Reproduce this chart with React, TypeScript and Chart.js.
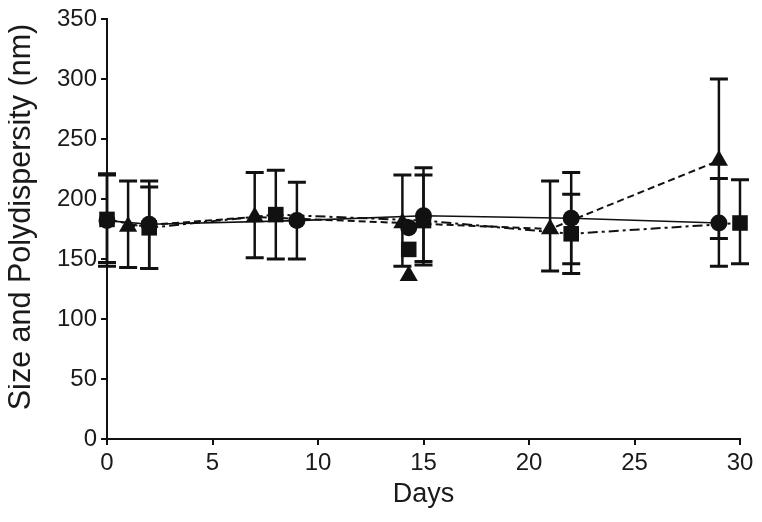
import React, { useEffect, useRef } from "react";
import { Chart, registerables } from "chart.js";

Chart.register(...registerables);

// ---- data ----
const xTicks = [0, 5, 10, 15, 20, 25, 30];
const yTicks = [0, 50, 100, 150, 200, 250, 300, 350];

// circles (solid line)
const circleDays = [0, 2, 9, 15, 22, 29];
const circleMean = [182, 179, 182, 186, 184, 180];
const circleLow = [144, 142, 150, 148, 146, 144];
const circleHigh = [220, 215, 214, 226, 222, 217];

// squares (dash-dot line)
const squareDays = [0, 2, 8, 15, 22, 30];
const squareMean = [183, 176, 187, 182, 171, 180];
const squareLow = [147, 142, 150, 145, 138, 146];
const squareHigh = [221, 210, 224, 220, 204, 216];

// triangles (dashed line)
const triangleDays = [1, 7, 14, 21, 29];
const triangleMean = [177, 185, 180, 175, 232];
const triangleLow = [143, 151, 144, 140, 167];
const triangleHigh = [215, 222, 220, 215, 300];

// isolated points near day 14 (not joined by lines)
const extraDays = [14.3];
const extraCircle = [176];
const extraSquare = [158];
const extraTriangle = [136];

const yTitle = "Size and Polydispersity (nm)";
const xTitle = "Days";

const FONT = "'Liberation Sans', Arial, Helvetica, sans-serif";
const INK = "#111";

const errorSeries = [
  { days: circleDays, low: circleLow, high: circleHigh },
  { days: squareDays, low: squareLow, high: squareHigh },
  { days: triangleDays, low: triangleLow, high: triangleHigh },
];

const toPoints = (xs: number[], ys: number[]) => xs.map((d, i) => ({ x: d, y: ys[i] }));

const errorBarPlugin = {
  id: "errorBars",
  beforeDatasetsDraw(chart: any) {
    const { ctx, scales } = chart;
    const xs = scales.x;
    const ys = scales.y;
    ctx.save();
    ctx.strokeStyle = INK;
    ctx.lineCap = "butt";
    errorSeries.forEach((s) => {
      s.days.forEach((d, i) => {
        const px = xs.getPixelForValue(d);
        const pl = ys.getPixelForValue(s.low[i]);
        const ph = ys.getPixelForValue(s.high[i]);
        ctx.lineWidth = 2.5;
        ctx.beginPath();
        ctx.moveTo(px, pl);
        ctx.lineTo(px, ph);
        ctx.stroke();
        ctx.lineWidth = 3;
        ctx.beginPath();
        ctx.moveTo(px - 9, pl);
        ctx.lineTo(px + 9, pl);
        ctx.moveTo(px - 9, ph);
        ctx.lineTo(px + 9, ph);
        ctx.stroke();
      });
    });
    ctx.restore();
  },
};

const yTitlePlugin = {
  id: "yTitle",
  afterDraw(chart: any) {
    const { ctx, chartArea } = chart;
    ctx.save();
    ctx.fillStyle = "#1a1a1a";
    ctx.font = `30.5px ${FONT}`;
    ctx.textAlign = "center";
    ctx.textBaseline = "alphabetic";
    const cy = (chartArea.top + chartArea.bottom) / 2 - 12;
    ctx.translate(22, cy);
    ctx.rotate(-Math.PI / 2);
    ctx.fillText(yTitle, 0, 0);
    ctx.restore();
  },
};

export default function App() {
  const ref = useRef<HTMLCanvasElement>(null);

  useEffect(() => {
    if (!ref.current) return;
    const common = {
      borderColor: INK,
      backgroundColor: INK,
      pointBorderColor: INK,
      pointBackgroundColor: INK,
      pointBorderWidth: 0,
      clip: false as any,
    };
    const chart = new Chart(ref.current, {
      type: "scatter",
      data: {
        datasets: [
          {
            ...common,
            label: "circle",
            data: toPoints(circleDays, circleMean),
            showLine: true,
            borderWidth: 1.6,
            pointStyle: "circle",
            pointRadius: 8.5,
          },
          {
            ...common,
            label: "square",
            data: toPoints(squareDays, squareMean),
            showLine: true,
            borderWidth: 2,
            borderDash: [10, 4, 3, 4],
            pointStyle: "rect",
            pointRadius: 11,
          },
          {
            ...common,
            label: "triangle",
            data: toPoints(triangleDays, triangleMean),
            showLine: true,
            borderWidth: 2,
            borderDash: [7, 4],
            pointStyle: "triangle",
            pointRadius: 10.5,
          },
          {
            ...common,
            label: "circle extra",
            data: toPoints(extraDays, extraCircle),
            showLine: false,
            pointStyle: "circle",
            pointRadius: 8.5,
          },
          {
            ...common,
            label: "square extra",
            data: toPoints(extraDays, extraSquare),
            showLine: false,
            pointStyle: "rect",
            pointRadius: 11,
          },
          {
            ...common,
            label: "triangle extra",
            data: toPoints(extraDays, extraTriangle),
            showLine: false,
            pointStyle: "triangle",
            pointRadius: 10.5,
          },
        ],
      },
      options: {
        responsive: false,
        animation: false,
        devicePixelRatio: 1,
        layout: { padding: { top: 10, right: 14, left: 0, bottom: 0 } },
        plugins: {
          legend: { display: false },
          tooltip: { enabled: false },
        },
        scales: {
          x: {
            type: "linear",
            min: 0,
            max: 30,
            afterBuildTicks: (scale: any) => {
              scale.ticks = xTicks.map((v) => ({ value: v }));
            },
            afterFit: (scale: any) => {
              scale.height = 75;
              scale.paddingLeft = 0;
              scale.paddingRight = 0;
            },
            border: { display: true, color: INK, width: 2 },
            grid: {
              display: true,
              drawOnChartArea: false,
              drawTicks: true,
              tickLength: 6,
              color: INK,
              lineWidth: 2,
            },
            ticks: {
              color: "#1a1a1a",
              font: { family: FONT, size: 24 },
              padding: 4,
              maxRotation: 0,
              autoSkip: false,
            },
            title: {
              display: true,
              text: xTitle,
              color: "#1a1a1a",
              font: { family: FONT, size: 27, lineHeight: 1.2 },
              padding: { top: 0, bottom: 3 },
            },
          },
          y: {
            type: "linear",
            min: 0,
            max: 350,
            afterBuildTicks: (scale: any) => {
              scale.ticks = yTicks.map((v) => ({ value: v }));
            },
            afterFit: (scale: any) => {
              scale.width = 99;
              scale.paddingTop = 0;
              scale.paddingBottom = 0;
            },
            border: { display: true, color: INK, width: 2 },
            grid: {
              display: true,
              drawOnChartArea: false,
              drawTicks: true,
              tickLength: 6,
              color: INK,
              lineWidth: 2,
            },
            ticks: {
              color: "#1a1a1a",
              font: { family: FONT, size: 24 },
              padding: 4,
              autoSkip: false,
            },
            title: { display: false },
          },
        },
      },
      plugins: [errorBarPlugin, yTitlePlugin],
    });
    return () => chart.destroy();
  }, []);

  return (
    <div style={{ width: 746, height: 506 }}>
      <canvas ref={ref} width={746} height={506} style={{ display: "block" }} />
    </div>
  );
}
